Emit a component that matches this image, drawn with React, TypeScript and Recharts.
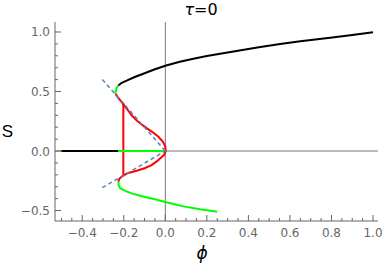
import { LineChart, Line, XAxis, YAxis, ReferenceLine } from "recharts";

// upper stable branch (black)
const upperBlack = [
  { x: -0.226, y: 0.55 }, { x: -0.21, y: 0.573 }, { x: -0.186, y: 0.592 }, { x: -0.15, y: 0.62 },
  { x: -0.106, y: 0.649 }, { x: -0.05, y: 0.687 }, { x: 0, y: 0.717 }, { x: 0.07, y: 0.75 },
  { x: 0.135, y: 0.775 }, { x: 0.2, y: 0.798 }, { x: 0.264, y: 0.818 }, { x: 0.35, y: 0.843 },
  { x: 0.45, y: 0.872 }, { x: 0.553, y: 0.9 }, { x: 0.65, y: 0.923 }, { x: 0.794, y: 0.951 },
  { x: 0.9, y: 0.975 }, { x: 1.0, y: 0.998 },
];
const zeroBlack = [{ x: -0.5, y: 0 }, { x: -0.226, y: 0 }];

// green pieces
const upperGreen = [
  { x: -0.226, y: 0.55 }, { x: -0.234, y: 0.532 }, { x: -0.239, y: 0.505 }, { x: -0.239, y: 0.48 },
];
const zeroGreen = [{ x: -0.226, y: 0 }, { x: 0, y: 0 }];
const lowerGreen = [
  { x: -0.226, y: -0.258 }, { x: -0.224, y: -0.29 }, { x: -0.218, y: -0.313 }, { x: -0.19, y: -0.337 },
  { x: -0.162, y: -0.356 }, { x: -0.13, y: -0.372 }, { x: -0.098, y: -0.387 }, { x: -0.05, y: -0.405 },
  { x: 0, y: -0.428 }, { x: 0.087, y: -0.465 }, { x: 0.167, y: -0.49 }, { x: 0.25, y: -0.51 },
];

// red unstable branch and jump
const redCurve = [
  { x: -0.239, y: 0.48 }, { x: -0.23, y: 0.455 }, { x: -0.21, y: 0.41 }, { x: -0.185, y: 0.355 },
  { x: -0.162, y: 0.3 }, { x: -0.135, y: 0.252 }, { x: -0.115, y: 0.225 }, { x: -0.09, y: 0.192 },
  { x: -0.06, y: 0.157 }, { x: -0.033, y: 0.12 }, { x: -0.012, y: 0.08 }, { x: 0, y: 0.04 },
  { x: 0.002, y: 0 }, { x: -0.005, y: -0.03 }, { x: -0.017, y: -0.05 }, { x: -0.04, y: -0.085 },
  { x: -0.066, y: -0.118 }, { x: -0.1, y: -0.145 }, { x: -0.13, y: -0.162 }, { x: -0.16, y: -0.177 },
  { x: -0.186, y: -0.19 }, { x: -0.21, y: -0.215 }, { x: -0.222, y: -0.235 }, { x: -0.226, y: -0.258 },
];
const redJump = [{ x: -0.202, y: 0.405 }, { x: -0.202, y: -0.207 }];

// dashed asymptotes
const dashUpper = [{ x: -0.303, y: 0.601 }, { x: 0, y: 0 }];
const dashLower = [{ x: -0.303, y: -0.308 }, { x: 0, y: 0 }];

const xTicks = [-0.5, -0.45, -0.4, -0.35, -0.3, -0.25, -0.2, -0.15, -0.1, -0.05, 0, 0.05, 0.1, 0.15, 0.2, 0.25,
  0.3, 0.35, 0.4, 0.45, 0.5, 0.55, 0.6, 0.65, 0.7, 0.75, 0.8, 0.85, 0.9, 0.95, 1.0];
const xMajor = [-0.4, -0.2, 0, 0.2, 0.4, 0.6, 0.8, 1.0];
const yTicks = [-0.5, -0.4, -0.3, -0.2, -0.1, 0, 0.1, 0.2, 0.3, 0.4, 0.5, 0.6, 0.7, 0.8, 0.9, 1.0];
const yMajor = [-0.5, 0, 0.5, 1.0];

const FRAME = "#666";
const LABEL = "#666";
const FONT = "DejaVu Sans, sans-serif";

const has = (arr: number[], v: number) => arr.some((m) => Math.abs(m - v) < 1e-6);
const fmt = (v: number) => (Math.abs(v) < 1e-9 ? "0.0" : v.toFixed(1).replace("-", "\u2212"));

function makeTick(side: "bottom" | "top" | "left" | "right", majors: number[], label: boolean) {
  return (props: any) => {
    const { x, y, payload } = props;
    const major = has(majors, payload.value);
    const len = major ? 6 : 3;
    let line;
    if (side === "bottom") line = <line x1={x} x2={x} y1={y} y2={y - len} stroke={FRAME} />;
    else if (side === "top") line = <line x1={x} x2={x} y1={y} y2={y + len} stroke={FRAME} />;
    else if (side === "left") line = <line x1={x} x2={x + len} y1={y} y2={y} stroke={FRAME} />;
    else line = <line x1={x} x2={x - len} y1={y} y2={y} stroke={FRAME} />;
    return (
      <g>
        {line}
        {label && major && side === "bottom" && (
          <text x={x} y={y + 16} textAnchor="middle" fontSize={12} fontFamily={FONT} fill={LABEL}>{fmt(payload.value)}</text>
        )}
        {label && major && side === "left" && (
          <text x={x - 5} y={y + 4.5} textAnchor="end" fontSize={12} fontFamily={FONT} fill={LABEL}>{fmt(payload.value)}</text>
        )}
      </g>
    );
  };
}

export default function App() {
  const common = { dot: false, isAnimationActive: false, type: "linear" as const, dataKey: "y", strokeWidth: 2 };
  return (
    <div style={{ position: "absolute", left: 0, top: 0, width: 382, height: 267, background: "#fff" }}>
      <LineChart width={382} height={267} margin={{ top: 22, right: 4, left: 0, bottom: 0 }}>
        <XAxis xAxisId="b" type="number" dataKey="x" domain={[-0.531, 1.024]} allowDataOverflow ticks={xTicks}
          interval={0} height={46} tickSize={0} tickMargin={0} stroke={FRAME} tick={makeTick("bottom", xMajor, true)} />
        <XAxis xAxisId="t" orientation="top" type="number" dataKey="x" domain={[-0.531, 1.024]} allowDataOverflow
          ticks={xTicks} interval={0} height={0} tickSize={0} tickMargin={0} stroke={FRAME} tick={makeTick("top", xMajor, false)} />
        <YAxis yAxisId="l" type="number" domain={[-0.588, 1.084]} allowDataOverflow ticks={yTicks} interval={0}
          width={55} tickSize={0} tickMargin={0} stroke={FRAME} tick={makeTick("left", yMajor, true)} />
        <YAxis yAxisId="r" orientation="right" type="number" domain={[-0.588, 1.084]} allowDataOverflow ticks={yTicks}
          interval={0} width={0} tickSize={0} tickMargin={0} stroke={FRAME} tick={makeTick("right", yMajor, false)} />
        <ReferenceLine xAxisId="b" yAxisId="l" x={0} stroke="#777" strokeWidth={1} />
        <ReferenceLine xAxisId="b" yAxisId="l" y={0} stroke="#777" strokeWidth={1} />
        <Line {...common} xAxisId="b" yAxisId="l" data={redCurve} stroke="#ff0000" />
        <Line {...common} xAxisId="b" yAxisId="l" data={redJump} stroke="#ff0000" />
        <Line {...common} xAxisId="b" yAxisId="l" data={zeroBlack} stroke="#000" />
        <Line {...common} xAxisId="b" yAxisId="l" data={upperBlack} stroke="#000" />
        <Line {...common} xAxisId="b" yAxisId="l" data={zeroGreen} stroke="#00ff00" />
        <Line {...common} xAxisId="b" yAxisId="l" data={upperGreen} stroke="#00ff00" />
        <Line {...common} xAxisId="b" yAxisId="l" data={lowerGreen} stroke="#00ff00" />
        <Line {...common} xAxisId="b" yAxisId="l" data={dashUpper} stroke="#5E81B5" strokeWidth={1.5} strokeDasharray="4 3" />
        <Line {...common} xAxisId="b" yAxisId="l" data={dashLower} stroke="#5E81B5" strokeWidth={1.5} strokeDasharray="4 3" />
      </LineChart>
      <svg width={382} height={267} style={{ position: "absolute", left: 0, top: 0, pointerEvents: "none" }}>
        <text x={201} y={15} textAnchor="middle" fontSize={16} fontFamily={FONT} fill="#000">
          <tspan fontStyle="italic">τ</tspan>=0
        </text>
        <text x={7.5} y={137} textAnchor="middle" fontSize={17} fontFamily="Liberation Sans, Arial, sans-serif" fill="#000">S</text>
        <text x={202} y={259} textAnchor="middle" fontSize={17} fontStyle="italic" fontFamily={FONT} fill="#000">ϕ</text>
      </svg>
    </div>
  );
}
